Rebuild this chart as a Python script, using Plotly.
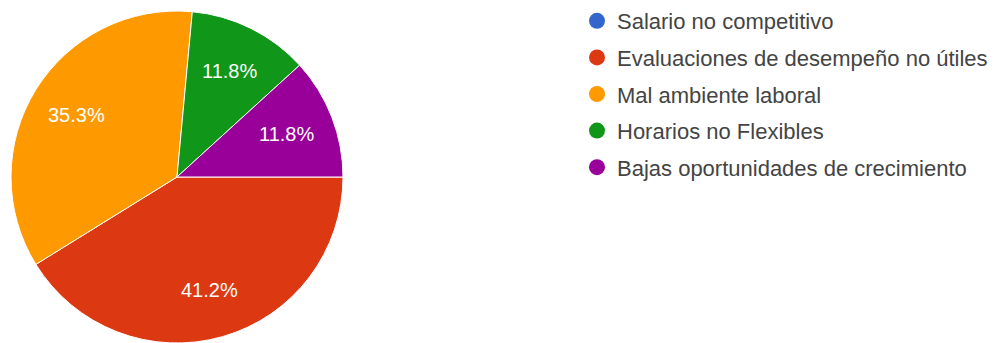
import math
import plotly.graph_objects as go

# Survey answers: reasons for leaving
categories = [
    "Salario no competitivo",
    "Evaluaciones de desempeño no útiles",
    "Mal ambiente laboral",
    "Horarios no Flexibles",
    "Bajas oportunidades de crecimiento",
]
counts = [0, 7, 6, 2, 2]
colors = ["#3366cc", "#dc3912", "#ff9900", "#109618", "#990099"]

W, H = 1000, 343
font_family = "Liberation Sans, Arial, sans-serif"

# pie geometry (pixels)
CX, CY, R = 177, 177, 166
LABEL_R = 0.71 * R

fig = go.Figure()

fig.add_trace(go.Pie(
    labels=categories,
    values=counts,
    sort=False,
    direction="clockwise",
    rotation=90,
    marker=dict(colors=colors, line=dict(color="white", width=1)),
    textinfo="none",
    hoverinfo="label+percent",
    showlegend=False,
    domain=dict(x=[(CX - R) / W, (CX + R) / W], y=[1 - (CY + R) / H, 1 - (CY - R) / H]),
))

# percentage labels placed inside each slice, on its mid-angle
total = sum(counts)
start = 0.0  # degrees, measured from 3 o'clock, going clockwise
for c in counts:
    sweep = 360.0 * c / total
    if c > 0:
        mid = math.radians(start + sweep / 2)
        px = CX + LABEL_R * math.cos(mid)
        py = CY + LABEL_R * math.sin(mid)
        fig.add_annotation(
            x=px / W, y=1 - py / H, xref="paper", yref="paper",
            text=f"{100 * c / total:.1f}%", showarrow=False,
            font=dict(color="white", size=20, family=font_family),
            xanchor="center", yanchor="middle",
        )
    start += sweep

# legend entries drawn as circular markers
for i, (name, col) in enumerate(zip(categories, colors)):
    fig.add_trace(go.Scatter(
        x=[None], y=[None],
        mode="markers",
        marker=dict(color=col, size=17, symbol="circle"),
        name=name,
        legendgroup=f"g{i}",
        showlegend=True,
        hoverinfo="skip",
    ))

fig.update_layout(
    width=W,
    height=H,
    margin=dict(l=0, r=0, t=0, b=0),
    paper_bgcolor="white",
    plot_bgcolor="white",
    xaxis=dict(visible=False),
    yaxis=dict(visible=False),
    legend=dict(
        x=0.577,
        y=1 - 0 / H,
        xanchor="left",
        yanchor="top",
        font=dict(family=font_family, size=22, color="#444444"),
        tracegroupgap=5,
        itemwidth=30,
        bgcolor="rgba(0,0,0,0)",
    ),
)

fig.write_html("out.html")
